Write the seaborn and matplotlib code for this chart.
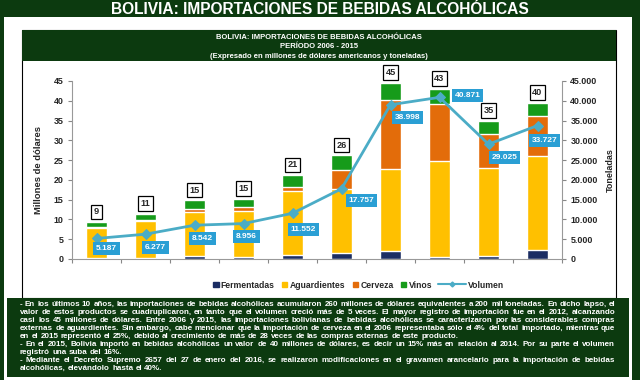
import numpy as np
import pandas as pd
import seaborn as sns
import matplotlib.pyplot as plt
from matplotlib.patches import Rectangle, Patch
from matplotlib.lines import Line2D

# datos (millones de dolares y toneladas)
years = ["2006", "2007", "2008", "2009", "2010", "2011", "2012", "2013", "2014", "2015"]
fermentadas = [0.3, 0.3, 0.8, 0.5, 1.0, 1.5, 2.1, 0.4, 0.8, 2.3]
aguardientes = [7.5, 9.2, 11.2, 11.6, 16.1, 16.2, 20.7, 24.5, 22.1, 23.8]
cerveza = [0.4, 0.4, 0.6, 1.0, 1.1, 4.9, 17.5, 14.4, 8.6, 10.0]
vinos = [1.1, 1.5, 2.2, 2.1, 3.0, 3.6, 4.3, 3.7, 3.5, 3.4]
totales = [9, 11, 15, 15, 21, 26, 45, 43, 35, 40]
volumen = [5187, 6277, 8542, 8956, 11552, 17757, 38998, 40871, 29025, 33727]

series = ["Fermentadas", "Aguardientes", "Cerveza", "Vinos"]
colors = {"Fermentadas": "#1b2d63", "Aguardientes": "#ffc000",
          "Cerveza": "#e36c0a", "Vinos": "#169b1a"}
line_color = "#4bacc6"
label_bg = "#2a9fd4"
dark = "#0c3a0f"

title = "BOLIVIA: IMPORTACIONES DE BEBIDAS ALCOHÓLICAS"
header = ["BOLIVIA: IMPORTACIONES DE BEBIDAS ALCOHÓLICAS",
          "PERÍODO 2006 - 2015",
          "(Expresado en millones de dólares americanos y toneladas)"]
notes = [
    ("- En los últimos 10 años, las importaciones de bebidas alcohólicas acumularon 260 millones de dólares equivalentes a 200 mil toneladas. En dicho lapso, el", True),
    ("valor de estos productos se cuadruplicaron, en tanto que el volumen creció más de 5 veces. El mayor registro de importación fue en el 2012, alcanzando", True),
    ("casi los 45 millones de dólares. Entre 2006 y 2015, las importaciones bolivianas de bebidas alcohólicas se caracterizaron por las considerables compras", True),
    ("externas de aguardientes. Sin embargo, cabe mencionar que la importación de cerveza en el 2006 representaba sólo el 4% del total importado, mientras que", True),
    ("en el 2015 representó el 25%, debido al crecimiento de más de 28 veces de las compras externas de este producto.", False),
    ("- En el 2015, Bolivia importó en bebidas alcohólicas un valor de 40 millones de dólares, es decir un 15% más en relación al 2014. Por su parte el volumen", True),
    ("registró una suba del 16%.", False),
    ("- Mediante el Decreto Supremo 2657 del 27 de enero del 2016, se realizaron modificaciones en el gravamen arancelario para la importación de bebidas", True),
    ("alcohólicas, elevándolo hasta el 40%.", False),
]
# posicion de las etiquetas de volumen (px respecto al punto)
label_offsets = [(10, 10), (10, 13), (8, 13), (3, 13), (11, 16), (20, 12), (17, 13), (28, -2), (16, 13), (7, 15)]

sns.set_style("white")
plt.rcParams["font.family"] = ["Liberation Sans", "DejaVu Sans"]
plt.rcParams["font.weight"] = "bold"

W, H = 640, 380
fig = plt.figure(figsize=(6.4, 3.8), dpi=100)
fig.patch.set_facecolor(dark)


def fx(px):
    return px / W


def fy(py):
    return 1 - py / H


def rect(x0, y0, x1, y1, **kw):
    fig.add_artist(Rectangle((fx(x0), fy(y1)), fx(x1 - x0), (y1 - y0) / H,
                             transform=fig.transFigure, zorder=-10, **kw))


# marco
rect(4, 17, 632, 380, facecolor="white", edgecolor="none")
rect(22, 30, 616, 298, facecolor="white", edgecolor="black", lw=0.8)
rect(22, 30, 616, 61, facecolor=dark, edgecolor="none")
rect(7, 298, 629, 377, facecolor=dark, edgecolor="none")

fig.text(0.5, fy(9.5), title, color="white", fontsize=11.2, fontweight="bold",
         ha="center", va="center")
for i, line in enumerate(header):
    fig.text(fx(319), fy(37.5 + i * 9.5), line, color="white", fontsize=5.5,
             fontweight="bold", ha="center", va="center")

# grafico
ax = fig.add_axes([fx(72), fy(259), fx(562 - 72), (259 - 81) / H])
ax.patch.set_alpha(0)
df = pd.DataFrame({"anio": years, "Fermentadas": fermentadas, "Aguardientes": aguardientes,
                   "Cerveza": cerveza, "Vinos": vinos})
cum = df[series].cumsum(axis=1)
for s in reversed(series):
    sns.barplot(x=df["anio"], y=cum[s], color=colors[s], width=0.41,
                saturation=1, ax=ax, zorder=2)

ax.set_ylim(0, 45)
ax.set_xlim(-0.5, 9.5)
ax.set_yticks(range(0, 46, 5))
ax.set_xticks(np.arange(-0.5, 10, 1))
ax.set_xticklabels([])
ax.set_xlabel("")
ax.set_ylabel("Millones de dólares", fontsize=6.8, fontweight="bold", labelpad=8)
ax.tick_params(axis="y", labelsize=6.4, length=3, color="#888888", pad=3, left=True)
ax.tick_params(axis="x", length=3, color="#888888", bottom=True)
for side in ["top", "right"]:
    ax.spines[side].set_visible(False)
for side in ["left", "bottom"]:
    ax.spines[side].set_color("#999999")
    ax.spines[side].set_linewidth(0.8)

top = cum["Vinos"].values
for i, t in enumerate(totales):
    ax.text(i, top[i] + 2.6, str(t), ha="center", va="center", fontsize=6.6,
            fontweight="bold", zorder=5,
            bbox=dict(boxstyle="square,pad=0.3", fc="white", ec="black", lw=0.9))

ax2 = ax.twinx()
sns.lineplot(x=years, y=volumen, ax=ax2, color=line_color, lw=2, marker="D",
             markersize=5, markeredgecolor=line_color, sort=False, zorder=3)
ax2.set_ylim(0, 45000)
ax2.set_yticks(range(0, 45001, 5000))
ax2.set_yticklabels([f"{v:,}".replace(",", ".") for v in range(0, 45001, 5000)])
ax2.set_ylabel("Toneladas", fontsize=6.5, fontweight="bold", labelpad=6)
ax2.tick_params(axis="y", labelsize=6.4, length=3, color="#888888", pad=3, right=True)
for side in ["top", "left", "bottom"]:
    ax2.spines[side].set_visible(False)
ax2.spines["right"].set_color("#999999")
ax2.spines["right"].set_linewidth(0.8)

for i, v in enumerate(volumen):
    dx, dy = label_offsets[i]
    ax2.annotate(f"{v:,}".replace(",", "."), xy=(i, v), xytext=(dx * 0.72, -dy * 0.72),
                 textcoords="offset points", ha="center", va="center", color="white",
                 fontsize=6, fontweight="bold", zorder=6,
                 bbox=dict(boxstyle="square,pad=0.35", fc=label_bg, ec="none"))

# leyenda: barras y volumen por separado para que el trazo de la linea sea mas largo
handles = [Patch(color=colors[s]) for s in series]
fig.legend(handles, series, loc="center right", bbox_to_anchor=(fx(432), fy(285)),
           ncol=4, frameon=False, handlelength=0.6, handleheight=0.6,
           handletextpad=0.25, columnspacing=0.9, borderpad=0, borderaxespad=0,
           prop={"weight": "bold", "size": 6.2})
fig.legend([Line2D([0], [0], color=line_color, lw=1.5, marker="D", markersize=2.5)],
           ["Volumen"], loc="center left", bbox_to_anchor=(fx(438), fy(285)),
           frameon=False, handlelength=3.2, handletextpad=0.3, borderpad=0,
           borderaxespad=0, prop={"weight": "bold", "size": 6.2})

# texto justificado, palabra por palabra
renderer = fig.canvas.get_renderer()
x_left, x_right = 20, 615
fs = 5.75


def width_px(s):
    t = fig.text(0, 0, s, fontsize=fs, fontweight="bold")
    w = t.get_window_extent(renderer).width
    t.remove()
    return w


space = width_px("a a") - width_px("aa")
for k, (line, justify) in enumerate(notes):
    y = fy(306 + k * 8.0)
    words = line.split(" ")
    widths = [width_px(w) for w in words]
    if justify and len(words) > 1:
        gap = (x_right - x_left - sum(widths)) / (len(words) - 1)
    else:
        gap = space
    x = x_left
    for w, wd in zip(words, widths):
        fig.text(fx(x), y, w, fontsize=fs, fontweight="bold", color="white",
                 ha="left", va="baseline")
        x += wd + gap

fig.savefig("out.png", dpi=100, facecolor=fig.get_facecolor())
